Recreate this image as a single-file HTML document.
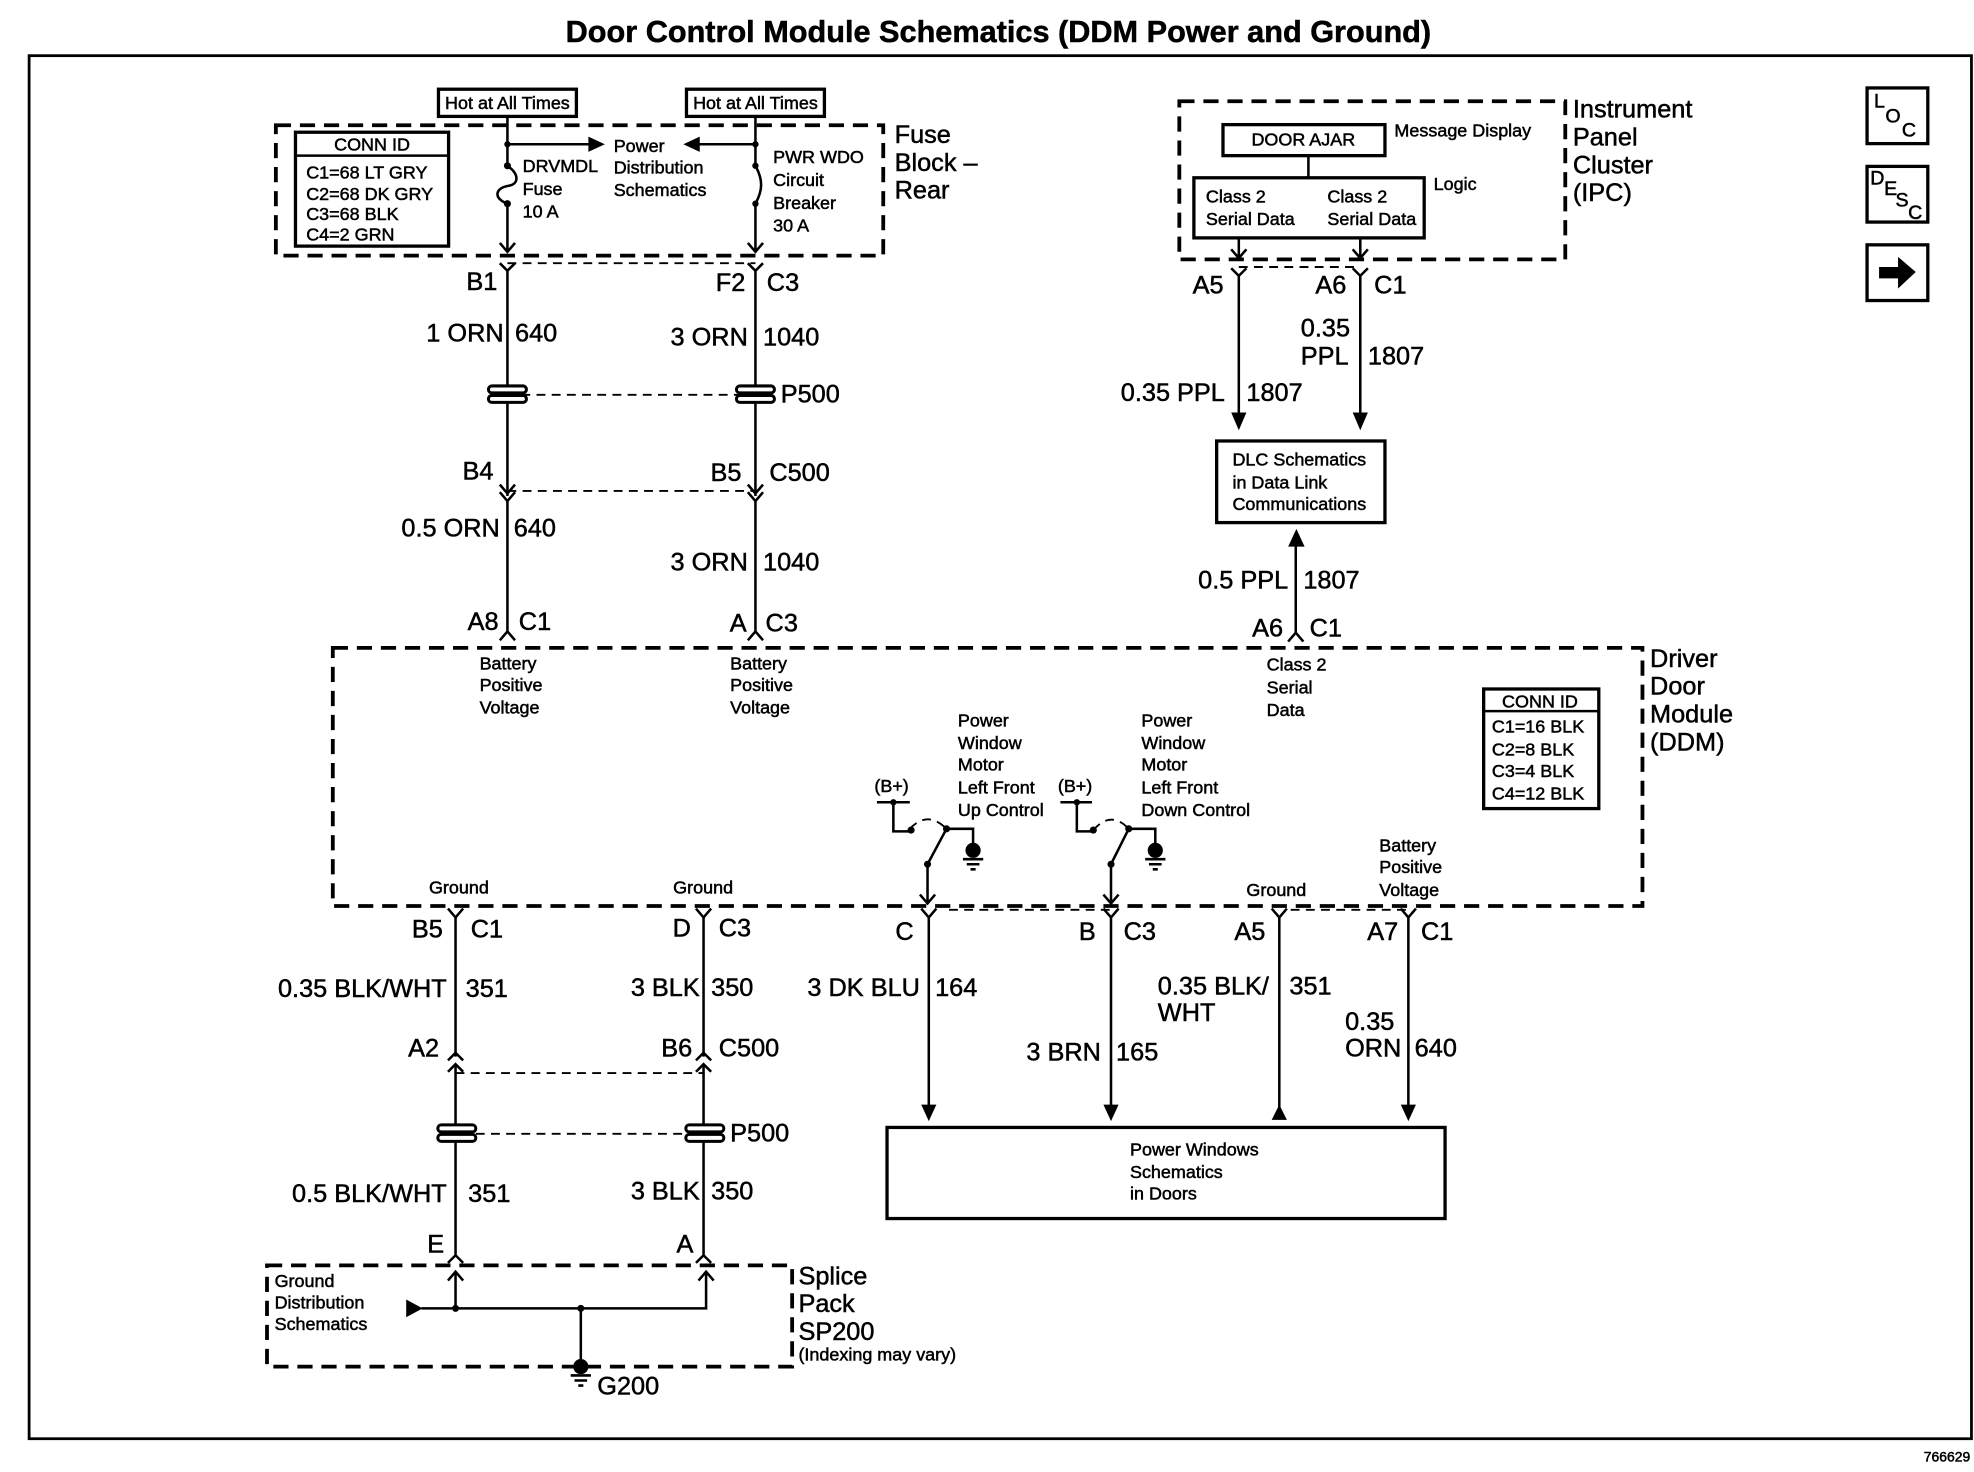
<!DOCTYPE html>
<html><head><meta charset="utf-8"><style>
html,body{margin:0;padding:0;background:#fff}
svg{display:block}
text{font-family:"Liberation Sans",sans-serif;fill:#000;stroke:#000;stroke-width:.4}
.l{font-size:20px}
.m{font-size:14.2px}
.e{text-anchor:end}
.c{text-anchor:middle}
.w{fill:none;stroke:#000;stroke-width:2}
.d{fill:none;stroke:#000;stroke-width:3;stroke-dasharray:12 7}
.t{fill:none;stroke:#000;stroke-width:1.5;stroke-dasharray:7 5}
.b{fill:#fff;stroke:#000;stroke-width:2.6}
.f{fill:#000;stroke:none}
</style></head><body>
<svg width="1974" height="1472" viewBox="0 0 1560 1163.3" xmlns="http://www.w3.org/2000/svg">
<rect width="1560" height="1164" fill="#fff"/>
<text x="789" y="33" text-anchor="middle" font-size="24" font-weight="bold" textLength="684" lengthAdjust="spacingAndGlyphs">Door Control Module Schematics (DDM Power and Ground)</text>
<rect x="23" y="44" width="1535" height="1093" fill="none" stroke="#000" stroke-width="2.2"/>
<text x="1557" y="1155" class="e" font-size="11">766629</text>

<!-- Fuse block -->
<rect class="d" x="218" y="99" width="480" height="103"/>
<rect class="b" x="346.500" y="70.500" width="109" height="21.500"/>
<rect class="b" x="542.500" y="70.500" width="109" height="21.500"/>
<text x="401" y="86" class="m c">Hot at All Times</text>
<text x="597" y="86" class="m c">Hot at All Times</text>
<path class="w" d="M401 92V131M401 161V199M395 192L401 199L407 192M401 114H466M597 92V131M597 161V199M591 192L597 199L603 192M597 114H552"/>
<path class="w" d="M401 131C411 138 410 146 401 147C391 149 390 157 401 161M597 131C603 142 603 150 597 161"/>
<path class="f" d="M465 108L478 114L465 120ZM553 108L540 114L553 120Z"/>
<circle cx="401" cy="114" r="2.500"/><circle cx="597" cy="114" r="2.500"/>
<circle cx="401" cy="131" r="2.800"/><circle cx="401" cy="161" r="2.800"/>
<circle cx="597" cy="131" r="2.500"/><circle cx="597" cy="161" r="2.500"/>
<text x="485" y="120" class="m">Power</text><text x="485" y="137" class="m">Distribution</text><text x="485" y="155" class="m">Schematics</text>
<text x="413" y="136" class="m">DRVMDL</text><text x="413" y="154" class="m">Fuse</text><text x="413" y="172" class="m">10 A</text>
<text x="611" y="129" class="m">PWR WDO</text><text x="611" y="147" class="m">Circuit</text><text x="611" y="165" class="m">Breaker</text><text x="611" y="183" class="m">30 A</text>
<rect class="b" x="233.500" y="104.500" width="121" height="90"/>
<path class="w" d="M233 123H355" stroke-width="3"/>
<text x="294" y="119" class="m c">CONN ID</text>
<text x="242" y="141" class="m">C1=68 LT GRY</text><text x="242" y="158" class="m">C2=68 DK GRY</text><text x="242" y="174" class="m">C3=68 BLK</text><text x="242" y="190" class="m">C4=2 GRN</text>
<text x="707" y="113" class="l">Fuse</text><text x="707" y="135" class="l">Block –</text><text x="707" y="157" class="l">Rear</text>

<!-- Upper left wires -->
<path class="t" d="M401 208H597M412 312H586M401 388H597"/>
<path class="w" d="M395 208L401 214L407 208M591 208L597 214L603 208M401 214V304M597 214V304M401 318V392M597 318V392M395 383L401 390L407 383M591 383L597 390L603 383M395 389L401 396L407 389M591 389L597 396L603 389M401 396V500M597 396V500M395 506L401 499L407 506M591 506L597 499L603 506"/>
<g fill="#fff" stroke="#000" stroke-width="2.400">
<rect x="386" y="305" width="30" height="5.500" rx="2.700"/><rect x="386" y="312.500" width="30" height="5.500" rx="2.700"/>
<rect x="582" y="305" width="30" height="5.500" rx="2.700"/><rect x="582" y="312.500" width="30" height="5.500" rx="2.700"/>
<rect x="346" y="889" width="30" height="5.500" rx="2.700"/><rect x="346" y="896.500" width="30" height="5.500" rx="2.700"/>
<rect x="542" y="889" width="30" height="5.500" rx="2.700"/><rect x="542" y="896.500" width="30" height="5.500" rx="2.700"/>
</g>
<text x="393" y="229" class="l e">B1</text><text x="589" y="230" class="l e">F2</text><text x="606" y="230" class="l">C3</text>
<text x="398" y="270" class="l e">1 ORN</text><text x="407" y="270" class="l">640</text>
<text x="591" y="273" class="l e">3 ORN</text><text x="603" y="273" class="l">1040</text>
<text x="617" y="318" class="l">P500</text>
<text x="390" y="379" class="l e">B4</text><text x="586" y="380" class="l e">B5</text><text x="608" y="380" class="l">C500</text>
<text x="395" y="424" class="l e">0.5 ORN</text><text x="406" y="424" class="l">640</text>
<text x="591" y="451" class="l e">3 ORN</text><text x="603" y="451" class="l">1040</text>
<text x="394" y="498" class="l e">A8</text><text x="410" y="498" class="l">C1</text>
<text x="590" y="499" class="l e">A</text><text x="605" y="499" class="l">C3</text>

<!-- IPC -->
<rect class="d" x="932" y="80" width="305" height="125"/>
<rect class="b" x="966.500" y="98.500" width="128" height="24.500"/>
<rect class="b" x="943.500" y="140.500" width="182" height="47.500"/>
<path class="w" d="M1034 123V140"/>
<text x="1030" y="115" class="m c">DOOR AJAR</text>
<text x="1102" y="108" class="m">Message Display</text>
<text x="1133" y="150" class="m">Logic</text>
<text x="953" y="160" class="m">Class 2</text><text x="953" y="178" class="m">Serial Data</text>
<text x="1049" y="160" class="m">Class 2</text><text x="1049" y="178" class="m">Serial Data</text>
<text x="1243" y="93" class="l">Instrument</text><text x="1243" y="115" class="l">Panel</text><text x="1243" y="137" class="l">Cluster</text><text x="1243" y="159" class="l">(IPC)</text>
<path class="t" d="M979 211H1075"/>
<path class="w" d="M979 188V203M1075 188V203M973 197L979 204L985 197M1069 197L1075 204L1081 197M973 212L979 218L985 212M1069 212L1075 218L1081 212M979 218V328M1075 218V328"/>
<path class="f" d="M973 326H985L979 340ZM1069 326H1081L1075 340Z"/>
<text x="967" y="232" class="l e">A5</text><text x="1064" y="232" class="l e">A6</text><text x="1086" y="232" class="l">C1</text>
<text x="1028" y="266" class="l">0.35</text><text x="1028" y="288" class="l">PPL</text><text x="1081" y="288" class="l">1807</text>
<text x="968" y="317" class="l e">0.35 PPL</text><text x="985" y="317" class="l">1807</text>
<rect class="b" x="961.500" y="348.500" width="133" height="64.500"/>
<text x="974" y="368" class="m">DLC Schematics</text><text x="974" y="386" class="m">in Data Link</text><text x="974" y="403" class="m">Communications</text>
<path class="w" d="M1024 428V501M1018 507L1024 500L1030 507"/>
<path class="f" d="M1018 432H1031L1024.500 418Z"/>
<text x="1018" y="465" class="l e">0.5 PPL</text><text x="1030" y="465" class="l">1807</text>
<text x="1014" y="503" class="l e">A6</text><text x="1035" y="503" class="l">C1</text>

<!-- Side boxes -->
<rect class="b" x="1475.500" y="69.500" width="48" height="44"/>
<rect class="b" x="1475.500" y="131.500" width="48" height="44"/>
<rect class="b" x="1475.500" y="193.500" width="48" height="44"/>
<text x="1481" y="85" font-size="15.500">L</text><text x="1490" y="97" font-size="15.500">O</text><text x="1503" y="108" font-size="15.500">C</text>
<text x="1478" y="146" font-size="15.500">D</text><text x="1489" y="154" font-size="15.500">E</text><text x="1498" y="163" font-size="15.500">S</text><text x="1508" y="173" font-size="15.500">C</text>
<path class="f" d="M1485 211H1500V203L1514 215L1500 228V220H1485Z"/>

<!-- DDM -->
<rect class="d" x="263" y="512" width="1035" height="204"/>
<text x="1304" y="527" class="l">Driver</text><text x="1304" y="549" class="l">Door</text><text x="1304" y="571" class="l">Module</text><text x="1304" y="593" class="l">(DDM)</text>
<text x="379" y="529" class="m">Battery</text><text x="379" y="546" class="m">Positive</text><text x="379" y="564" class="m">Voltage</text>
<text x="577" y="529" class="m">Battery</text><text x="577" y="546" class="m">Positive</text><text x="577" y="564" class="m">Voltage</text>
<text x="1001" y="530" class="m">Class 2</text><text x="1001" y="548" class="m">Serial</text><text x="1001" y="566" class="m">Data</text>
<rect class="b" x="1172.500" y="544.500" width="91" height="94.500"/>
<path class="w" d="M1172 562H1263"/>
<text x="1217" y="559" class="m c">CONN ID</text>
<text x="1179" y="579" class="m">C1=16 BLK</text><text x="1179" y="597" class="m">C2=8 BLK</text><text x="1179" y="614" class="m">C3=4 BLK</text><text x="1179" y="632" class="m">C4=12 BLK</text>
<text x="757" y="574" class="m">Power</text><text x="757" y="592" class="m">Window</text><text x="757" y="609" class="m">Motor</text><text x="757" y="627" class="m">Left Front</text><text x="757" y="645" class="m">Up Control</text>
<text x="902" y="574" class="m">Power</text><text x="902" y="592" class="m">Window</text><text x="902" y="609" class="m">Motor</text><text x="902" y="627" class="m">Left Front</text><text x="902" y="645" class="m">Down Control</text>
<text x="691" y="626" class="m">(B+)</text><text x="836" y="626" class="m">(B+)</text>
<text x="339" y="706" class="m">Ground</text><text x="532" y="706" class="m">Ground</text><text x="985" y="708" class="m">Ground</text>
<text x="1090" y="673" class="m">Battery</text><text x="1090" y="690" class="m">Positive</text><text x="1090" y="708" class="m">Voltage</text>

<!-- Switch 1 -->
<path class="w" d="M693 634H719M706 634V657H719M748 655H769V668M733 683L748 655M733 683V713M727 707L733 714L739 707"/>
<path class="t" d="M719 655Q733 640 748 655" stroke-dasharray="3 3"/>
<circle cx="706" cy="634" r="2.500"/><circle cx="720" cy="656" r="2.800"/><circle cx="748" cy="655" r="2.800"/><circle cx="733" cy="683" r="2.800"/><circle cx="769" cy="672" r="6"/>
<path class="w" d="M761 679H777M764 683H774M767 687H771" stroke-width="1.500"/>
<!-- Switch 2 -->
<path class="w" d="M838 634H863M851 634V657H864M892 655H913V668M878 683L892 655M878 683V713M872 707L878 714L884 707"/>
<path class="t" d="M864 656Q878 640 892 655" stroke-dasharray="3 3"/>
<circle cx="851" cy="634" r="2.500"/><circle cx="864" cy="656" r="2.800"/><circle cx="892" cy="655" r="2.800"/><circle cx="878" cy="683" r="2.800"/><circle cx="913" cy="672" r="6"/>
<path class="w" d="M905 679H921M908 683H918M911 687H915" stroke-width="1.500"/>

<!-- Lower wires -->
<path class="t" d="M750 719H878M1020 719H1113M360 848H556M376 896H542"/>
<path class="w" d="M354 718L360 725L366 718M550 718L556 725L562 718M728 718L734 725L740 718M872 718L878 725L884 718M1005 718L1011 725L1017 718M1107 718L1113 725L1119 718"/>
<path class="w" d="M360 725V835M556 725V835M354 838L360 832L366 838M550 838L556 832L562 838M354 847L360 841L366 847M550 847L556 841L562 847M360 841V888M556 841V888M360 902V992M556 902V992M354 998L360 992L366 998M550 998L556 992L562 998M354 1012L360 1005L366 1012M552 1012L558 1005L564 1012M360 1005V1034M558 1005V1034H333M459 1034V1076"/>
<path class="w" d="M734 725V875M878 725V875M1011 725V878M1113 725V875"/>
<path class="f" d="M728 873H740L734 886ZM872 873H884L878 886ZM1005 885H1017L1011 873ZM1107 873H1119L1113 886ZM321 1027L334 1034L321 1041Z"/>
<circle cx="360" cy="1034" r="2.800"/><circle cx="459" cy="1034" r="2.800"/><circle cx="459" cy="1080" r="6"/>
<path class="w" d="M451 1087H467M454 1091H464M457 1095H461" stroke-width="1.500"/>
<text x="350" y="741" class="l e">B5</text><text x="372" y="741" class="l">C1</text>
<text x="546" y="740" class="l e">D</text><text x="568" y="740" class="l">C3</text>
<text x="722" y="743" class="l e">C</text>
<text x="866" y="743" class="l e">B</text><text x="888" y="743" class="l">C3</text>
<text x="1000" y="743" class="l e">A5</text>
<text x="1105" y="743" class="l e">A7</text><text x="1123" y="743" class="l">C1</text>
<text x="353" y="788" class="l e">0.35 BLK/WHT</text><text x="368" y="788" class="l">351</text>
<text x="553" y="787" class="l e">3 BLK</text><text x="562" y="787" class="l">350</text>
<text x="727" y="787" class="l e">3 DK BLU</text><text x="739" y="787" class="l">164</text>
<text x="870" y="838" class="l e">3 BRN</text><text x="882" y="838" class="l">165</text>
<text x="915" y="786" class="l">0.35 BLK/</text><text x="915" y="807" class="l">WHT</text><text x="1019" y="786" class="l">351</text>
<text x="1063" y="814" class="l">0.35</text><text x="1063" y="835" class="l">ORN</text><text x="1118" y="835" class="l">640</text>
<text x="347" y="835" class="l e">A2</text><text x="547" y="835" class="l e">B6</text><text x="568" y="835" class="l">C500</text>
<text x="577" y="902" class="l">P500</text>
<text x="353" y="950" class="l e">0.5 BLK/WHT</text><text x="370" y="950" class="l">351</text>
<text x="553" y="948" class="l e">3 BLK</text><text x="562" y="948" class="l">350</text>
<text x="351" y="990" class="l e">E</text><text x="548" y="990" class="l e">A</text>

<rect class="b" x="701" y="891" width="441" height="72" fill="none"/>
<text x="893" y="913" class="m">Power Windows</text><text x="893" y="931" class="m">Schematics</text><text x="893" y="948" class="m">in Doors</text>

<!-- Splice pack -->
<rect class="d" x="211" y="1000" width="415" height="80"/>
<text x="217" y="1017" class="m">Ground</text><text x="217" y="1034" class="m">Distribution</text><text x="217" y="1051" class="m">Schematics</text>
<text x="631" y="1015" class="l">Splice</text><text x="631" y="1037" class="l">Pack</text><text x="631" y="1059" class="l">SP200</text>
<text x="631" y="1075" class="m">(Indexing may vary)</text>
<text x="472" y="1102" class="l">G200</text>
</svg>
</body></html>
